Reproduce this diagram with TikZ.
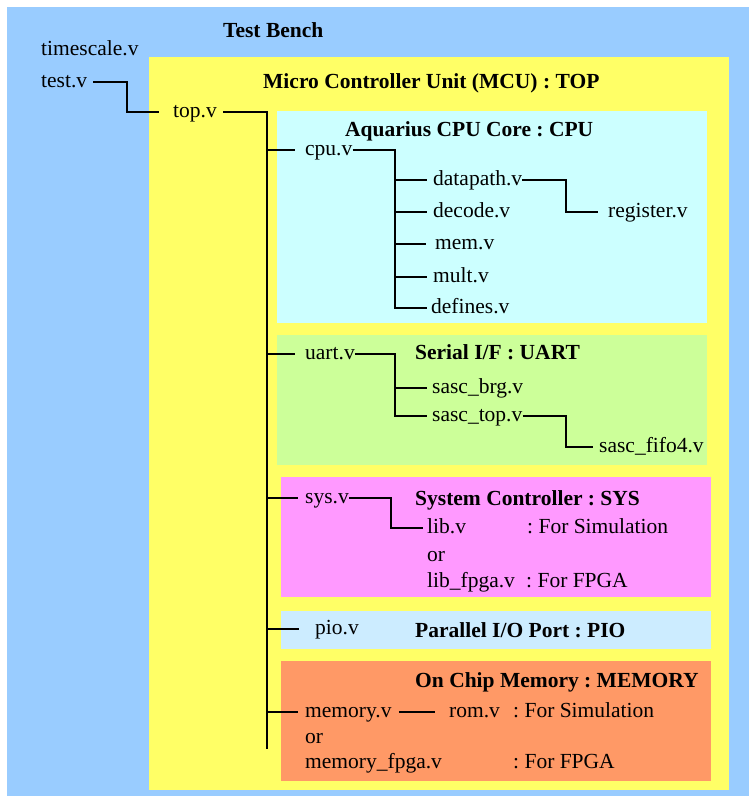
\documentclass[tikz,border=0pt]{standalone}
\usepackage{fontspec}
\setmainfont{Liberation Serif}
\frenchspacing
\definecolor{tbblue}{HTML}{99CCFF}
\definecolor{mcuyel}{HTML}{FFFF66}
\definecolor{cpucyan}{HTML}{CCFFFF}
\definecolor{uartgreen}{HTML}{CCFF99}
\definecolor{syspink}{HTML}{FF99FF}
\definecolor{pioblue}{HTML}{CCECFF}
\definecolor{memorange}{HTML}{FF9966}
\begin{document}
\frenchspacing
\begin{tikzpicture}[x=1pt,y=-1pt,
  txt/.style={inner sep=0pt, anchor=base west, text height=11pt, text depth=0pt,
              font=\fontsize{21.5}{25}\selectfont\frenchspacing},
  ttl/.style={txt, font=\fontsize{21.5}{25}\selectfont\bfseries\frenchspacing},
  wire/.style={draw=black, line width=2pt}]
\useasboundingbox (0,0) rectangle (749,796);
% areas
\fill[tbblue] (7,7) rectangle (749,796);
\fill[mcuyel] (149,57) rectangle (729,790);
\fill[cpucyan] (277,111) rectangle (707,323);
\fill[uartgreen] (277,335) rectangle (707,465);
\fill[syspink] (281,477) rectangle (711,597);
\fill[pioblue] (281,611) rectangle (711,649);
\fill[memorange] (281,661) rectangle (711,781);
% titles
\node[ttl] (ttb) at (223,37) {Test Bench};
\node[ttl] (tmcu) at (263,88) {Micro Controller Unit (MCU) : TOP};
\node[ttl] (tcpu) at (345,136) {Aquarius CPU Core : CPU};
\node[ttl] (tuart) at (415,359) {Serial I/F : UART};
\node[ttl] (tsys) at (415,505) {System Controller : SYS};
\node[ttl] (tpio) at (415,637) {Parallel I/O Port : PIO};
\node[ttl] (tmem) at (415,687) {On Chip Memory : MEMORY};
% files
\node[txt] (timescale) at (41,55) {timescale.v};
\node[txt] (test) at (41,87) {test.v};
\node[txt] (top) at (173,117) {top.v};
\node[txt] (cpu) at (305,155) {cpu.v};
\node[txt] (datapath) at (433,185) {datapath.v};
\node[txt] (decode) at (433,217) {decode.v};
\node[txt] (mem) at (435,249) {mem.v};
\node[txt] (mult) at (433,282) {mult.v};
\node[txt] (defines) at (431,313) {defines.v};
\node[txt] (register) at (608,217) {register.v};
\node[txt] (uart) at (305,359) {uart.v};
\node[txt] (sascbrg) at (432,393) {sasc\_brg.v};
\node[txt] (sasctop) at (432,421) {sasc\_top.v};
\node[txt] (fifo) at (599,452) {sasc\_fifo4.v};
\node[txt] (sys) at (305,503) {sys.v};
\node[txt] (lib) at (427,533) {lib.v};
\node[txt] (libsim) at (527,533) {: For Simulation};
\node[txt] (libor) at (427,561) {or};
\node[txt] (libfpga) at (427,587) {lib\_fpga.v};
\node[txt] (libfpganote) at (526,587) {: For FPGA};
\node[txt] (pio) at (315,634) {pio.v};
\node[txt] (memory) at (305,717) {memory.v};
\node[txt] (rom) at (449,717) {rom.v};
\node[txt] (romsim) at (513,717) {: For Simulation};
\node[txt] (memor) at (305,743) {or};
\node[txt] (memfpga) at (305,768) {memory\_fpga.v};
\node[txt] (memfpganote) at (513,768) {: For FPGA};
% bus x positions
\coordinate (tb) at (127,0);
\coordinate (trunk) at (267,0);
\coordinate (trunkend) at (267,749);
\coordinate (cb) at (395,0);
\coordinate (db) at (566,0);
\coordinate (ub) at (395,0);
\coordinate (sb) at (566,0);
\coordinate (yb) at (391,0);
% connectors
\draw[wire] ([xshift=6pt]test.east) -| (tb |- top.west) -- ([xshift=-14pt]top.west);
\draw[wire] ([xshift=6pt]top.east) -| (trunkend);
\draw[wire] (trunk |- cpu.west) -- ([xshift=-10pt]cpu.west);
\draw[wire] (trunk |- uart.west) -- ([xshift=-10pt]uart.west);
\draw[wire] (trunk |- sys.west) -- ([xshift=-7pt]sys.west);
\draw[wire] (trunk |- pio.west) -- ([xshift=-16pt]pio.west);
\draw[wire] (trunk |- memory.west) -- ([xshift=-7pt]memory.west);
% cpu tree
\draw[wire] (cpu.east) -| (cb |- defines.west) -- ([xshift=-4pt]defines.west);
\draw[wire] (cb |- datapath.west) -- ([xshift=-6pt]datapath.west);
\draw[wire] (cb |- decode.west) -- ([xshift=-6pt]decode.west);
\draw[wire] (cb |- mem.west) -- ([xshift=-9pt]mem.west);
\draw[wire] (cb |- mult.west) -- ([xshift=-6pt]mult.west);
\draw[wire] (datapath.east) -| (db |- register.west) -- ([xshift=-10pt]register.west);
% uart tree
\draw[wire] (uart.east) -| (ub |- sasctop.west) -- ([xshift=-5pt]sasctop.west);
\draw[wire] (ub |- sascbrg.west) -- ([xshift=-5pt]sascbrg.west);
\draw[wire] (sasctop.east) -| (sb |- fifo.west) -- ([xshift=-6pt]fifo.west);
% sys tree
\draw[wire] (sys.east) -| (yb |- lib.west) -- ([xshift=-4pt]lib.west);
% memory
\draw[wire] ([xshift=7pt]memory.east) -- ([xshift=-14pt]rom.west);
\end{tikzpicture}
\end{document}
